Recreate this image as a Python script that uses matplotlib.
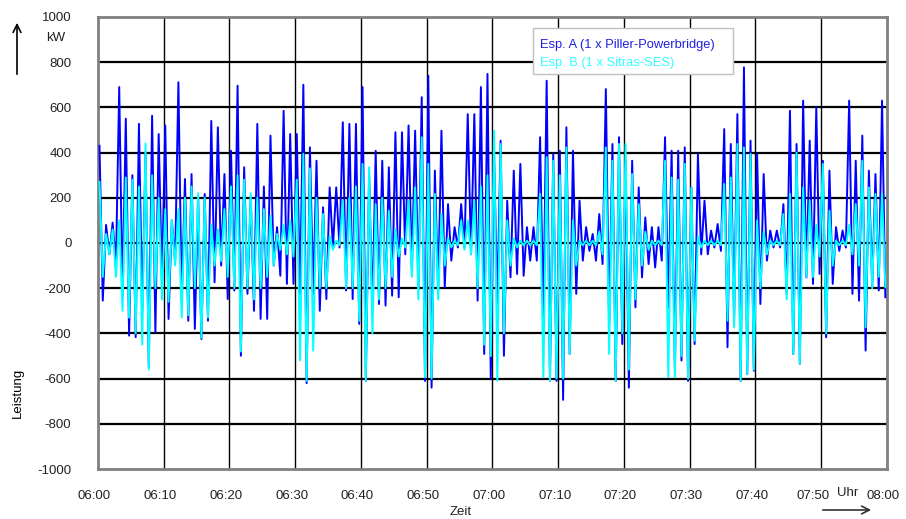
import numpy as np
import matplotlib
matplotlib.use("Agg")
import matplotlib.pyplot as plt
from matplotlib.patches import FancyArrowPatch, Rectangle
from matplotlib.transforms import ScaledTranslation

plt.rcParams["font.family"] = ["Liberation Sans", "DejaVu Sans"]
plt.rcParams["axes.unicode_minus"] = False

# per-minute peak values, 06:00 .. 07:59
esp_a_max = [430, 80, 90, 690, 550, 300, 527, 400, 563, 482, 520, 100, 711, 283, 305, 200, 217, 540, 512, 305,
             408, 696, 335, 200, 527, 250, 475, 70, 585, 482,
             482, 700, 423, 364, 158, 246, 246, 534, 527, 527, 690, 305, 408, 364, 335, 490, 490, 520, 497, 645,
             740, 320, 497, 172, 70, 172, 570, 570, 690, 748,
             394, 453, 187, 320, 350, 70, 70, 468, 718, 394, 408, 512, 408, 187, 70, 40, 128, 681, 438, 468,
             364, 364, 246, 113, 70, 70, 468, 408, 408, 423,
             246, 394, 187, 55, 84, 504, 438, 570, 777, 453, 394, 305, 55, 55, 172, 585, 438, 630, 453, 600,
             364, 320, 70, 55, 630, 364, 475, 320, 305, 630]
esp_a_min = [-255, -50, -100, -240, -410, -417, -300, -550, -395, -167, -336, -80, -255, -344, -380, -425, -344, -174, -100, -248,
             -210, -499, -225, -300, -336, -336, -100, -145, -181, -181,
             -225, -620, -225, -300, -248, -20, -20, -210, -248, -358, -610, -300, -270, -277, -233, -240, -50, -122, -196, -610,
             -640, -210, -196, -78, -20, -20, -50, -255, -491, -600,
             -270, -499, -152, -137, -145, -78, -78, -330, -610, -610, -694, -491, -225, -78, -35, -78, -93, -358, -610, -447,
             -640, -285, -152, -93, -108, -78, -285, -565, -520, -610,
             -447, -50, -50, -20, -35, -461, -344, -610, -580, -565, -270, -78, -20, -20, -225, -491, -535, -152, -181, -137,
             -417, -181, -35, -20, -225, -255, -476, -196, -210, -240]

esp_b_max = [270, 40, 60, 100, 290, 280, 250, 440, 300, 200, 150, 100, 150, 200, 250, 220, 200, 80, 60, 150,
             250, 300, 280, 220, 200, 150, 120, 40, 80, 100,
             280, 394, 330, 200, 128, 30, 10, 187, 200, 250, 350, 335, 172, 200, 143, 60, 20, 187, 246, 468,
             350, 217, 128, 20, 10, 100, 100, 187, 250, 300,
             497, 438, 100, 20, 10, 10, 10, 217, 380, 364, 300, 423, 100, 10, 10, 10, 50, 423, 364, 438,
             438, 305, 172, 50, 10, 10, 364, 290, 280, 350,
             246, 30, 10, 10, 10, 261, 290, 438, 423, 394, 100, 50, 10, 10, 128, 217, 400, 246, 187, 80,
             350, 143, 10, 10, 80, 172, 364, 246, 217, 217]
esp_b_min = [-150, -50, -150, -300, -330, -400, -450, -560, -200, -250, -260, -100, -330, -320, -200, -420, -330, -100, -80, -150,
             -200, -480, -200, -250, -200, -150, -100, -30, -50, -60,
             -520, -610, -476, -200, -200, -30, -10, -200, -200, -344, -610, -400, -250, -200, -150, -60, -20, -150, -250, -594,
             -600, -250, -100, -20, -10, -30, -50, -200, -450, -500,
             -610, -400, -100, -20, -10, -10, -10, -594, -610, -600, -600, -491, -100, -10, -10, -10, -50, -491, -610, -400,
             -560, -250, -100, -30, -10, -10, -594, -594, -500, -600,
             -432, -20, -10, -10, -10, -344, -373, -610, -580, -560, -200, -50, -10, -10, -250, -491, -535, -150, -150, -60,
             -400, -100, -10, -10, -50, -100, -373, -200, -150, -196]

series_names = ["Esp. A (1 x Piller-Powerbridge)", "Esp. B (1 x Sitras-SES)"]
tick_labels = ["06:00", "06:10", "06:20", "06:30", "06:40", "06:50", "07:00",
               "07:10", "07:20", "07:30", "07:40", "07:50", "08:00"]
y_ticks = [-1000, -800, -600, -400, -200, 0, 200, 400, 600, 800, 1000]

minute = np.arange(len(esp_a_max))
t = np.column_stack([minute + 0.25, minute + 0.75]).ravel()
a = np.column_stack([esp_a_max, esp_a_min]).ravel()
b = np.column_stack([esp_b_max, esp_b_min]).ravel()

fig = plt.figure(figsize=(9.06, 5.19), dpi=100)
ax = fig.add_axes([0.108, 0.0963, 0.871, 0.871])

ax.plot(t, a, color="#0000ff", lw=1.4, zorder=3)
ax.plot(t, b, color="#00ffff", lw=1.4, zorder=4)

ax.set_xlim(0, 120)
ax.set_ylim(-1000, 1000)
ax.set_xticks(np.arange(0, 121, 10))
ax.set_xticklabels(tick_labels)
ax.set_yticks(y_ticks)
ax.tick_params(length=0, labelsize=9.5, labelcolor="#222222")
ax.tick_params(axis="x", pad=15)
ax.tick_params(axis="y", pad=19)
for i, lab in enumerate(ax.get_xticklabels()):
    dx = -8 if i == 11 else -3.5
    lab.set_transform(lab.get_transform() + ScaledTranslation(dx / 100, 0, fig.dpi_scale_trans))

for v in y_ticks[1:-1]:
    ax.axhline(v, color="black", lw=1.6, zorder=1)
for m in range(10, 120, 10):
    ax.axvline(m, color="black", lw=1.0, zorder=1)
for s in ax.spines.values():
    s.set_color("#808080")
    s.set_linewidth(2)

fig.text(461 / 906, 1 - 512 / 519, "Zeit", fontsize=9.5, ha="center", va="center", color="#222222")
fig.text(0.02, 0.243, "Leistung", rotation=90, fontsize=9.5, ha="center", va="center")
fig.text(0.062, 0.927, "kW", fontsize=9.5, ha="center", va="center", color="#222222")
fig.text(848 / 906, 1 - 493 / 519, "Uhr", fontsize=9.5, ha="center", va="center", color="#222222")
fig.patches.append(FancyArrowPatch((17, 519 - 77), (17, 519 - 20), transform=None,
                                   arrowstyle="->", mutation_scale=14, lw=1.2, color="black"))
fig.patches.append(FancyArrowPatch((820, 9), (874, 9), transform=None,
                                   arrowstyle="->", mutation_scale=14, lw=1.2, color="#333333"))

# legend box drawn by hand (text only, no line handles)
fig.patches.append(Rectangle((533 / 906, 1 - 74 / 519), 200 / 906, 46 / 519, transform=fig.transFigure,
                             facecolor="white", edgecolor="#c0c0c0", lw=1, zorder=10))
fig.text(540 / 906, 1 - 45 / 519, series_names[0], fontsize=9.3, color="#2020e0", va="center", zorder=11)
fig.text(540 / 906, 1 - 63 / 519, series_names[1], fontsize=9.3, color="#33ffff", va="center", zorder=11)

fig.savefig("out.png", dpi=100)
